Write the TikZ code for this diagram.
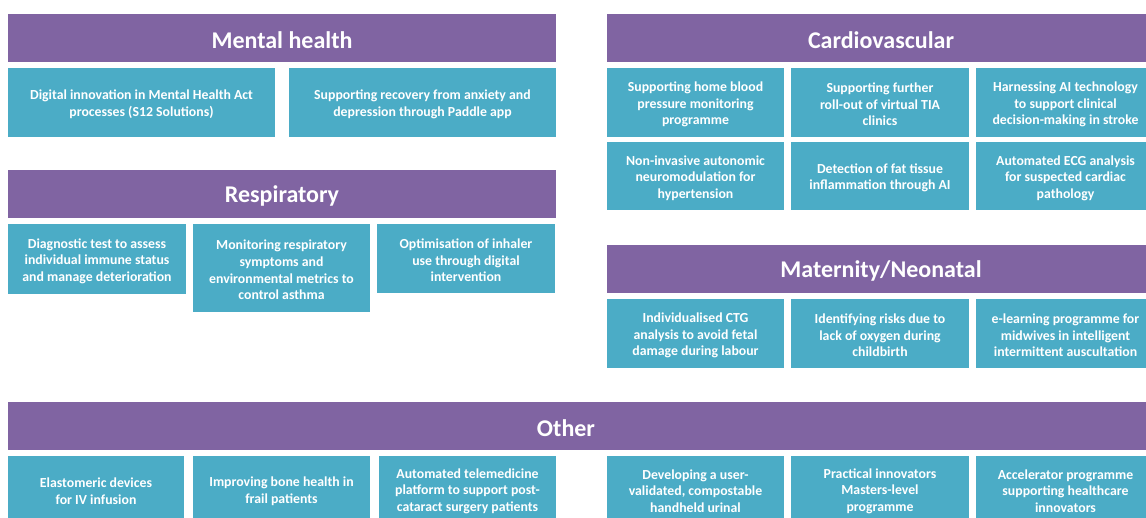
\documentclass[tikz,border=0pt]{standalone}
\usepackage{fontspec}
\setmainfont{Carlito}
\definecolor{hdr}{RGB}{128,100,162}
\definecolor{itm}{RGB}{75,172,198}
\tikzset{
  header/.style={fill=hdr, text=white, inner sep=0pt, font=\fontsize{24}{28}\selectfont\bfseries},
  item/.style={fill=itm, text=white, inner sep=0pt, align=center, font=\fontsize{13.8}{16.6}\selectfont\bfseries},
  lowtext/.style={yshift=-2pt},
}
% [style]{name}{x1}{y1}{x2}{y2}{text}, y runs downwards
\newcommand{\boxat}[7][item]{
  \fill[#1] (#3,#4) rectangle (#5,#6);
  \node[#1, fill=none, lowtext] (#2) at ({(#3+#5)/2},{(#4+#6)/2}) {#7};}

\begin{document}
\begin{tikzpicture}[x=1pt,y=-1pt]
\clip (0,0) rectangle (1146,518);
\fill[white] (0,0) rectangle (1146,518);
% left column
\boxat[header]{mental}{8}{14}{556}{62}{Mental health}
\boxat{mentalA}{8}{68}{275}{137}{Digital innovation in Mental Health Act\\processes (S12 Solutions)}
\boxat{mentalB}{289}{68}{556}{137}{Supporting recovery from anxiety and\\depression through Paddle app}
\boxat[header]{resp}{8}{170}{556}{218}{Respiratory}
\boxat{respA}{8}{224}{186}{294}{Diagnostic test to assess\\individual immune status\\and manage deterioration}
\boxat{respB}{193}{224}{370}{312}{Monitoring respiratory\\symptoms and\\environmental metrics to\\control asthma}
\boxat{respC}{377}{224}{555}{293}{Optimisation of inhaler\\use through digital\\intervention}
% right column
\boxat[header]{cardio}{607}{14}{1155}{62}{Cardiovascular}
\boxat{cardioA}{607}{68}{784}{137}{Supporting home blood\\pressure monitoring\\programme}
\boxat{cardioB}{791}{68}{969}{137}{Supporting further\\roll-out of virtual TIA\\clinics}
\boxat{cardioC}{976}{68}{1155}{137}{Harnessing AI technology\\to support clinical\\decision-making in stroke}
\boxat{cardioD}{607}{142}{784}{210}{Non-invasive autonomic\\neuromodulation for\\hypertension}
\boxat{cardioE}{791}{142}{969}{210}{Detection of fat tissue\\inflammation through AI}
\boxat{cardioF}{976}{142}{1155}{210}{Automated ECG analysis\\for suspected cardiac\\pathology}
\boxat[header]{mat}{607}{245}{1155}{293}{Maternity/Neonatal}
\boxat{matA}{607}{299}{784}{368}{Individualised CTG\\analysis to avoid fetal\\damage during labour}
\boxat{matB}{791}{299}{969}{368}{Identifying risks due to\\lack of oxygen during\\childbirth}
\boxat{matC}{976}{299}{1155}{368}{e-learning programme for\\midwives in intelligent\\intermittent auscultation}
% bottom row, title sits left of the band's middle
\boxat[header]{other}{8}{402}{1124}{450}{Other}
\fill[hdr] (1124,402) rectangle (1155,450);
\boxat{otherA}{8}{456}{184}{522}{Elastomeric devices\\for IV infusion}
\boxat{otherB}{193}{456}{370}{522}{Improving bone health in\\frail patients}
\boxat{otherC}{379}{456}{556}{522}{Automated telemedicine\\platform to support post-\\cataract surgery patients}
\boxat{otherD}{607}{456}{784}{522}{Developing a user-\\validated, compostable\\handheld urinal}
\boxat{otherE}{791}{456}{969}{522}{Practical innovators\\Masters-level\\programme}
\boxat{otherF}{976}{456}{1155}{522}{Accelerator programme\\supporting healthcare\\innovators}
\end{tikzpicture}
\end{document}
